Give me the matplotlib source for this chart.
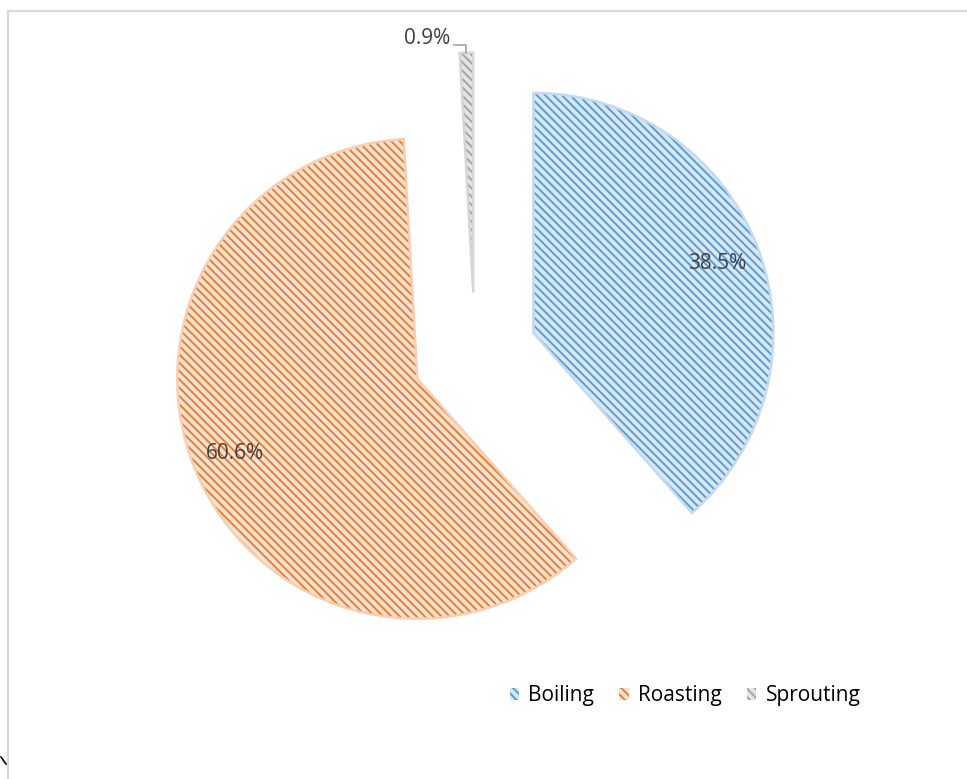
import matplotlib
matplotlib.use("Agg")
import matplotlib.pyplot as plt
from matplotlib.patches import Wedge, Rectangle
from matplotlib.lines import Line2D
import numpy as np

categories = ["Boiling", "Roasting", "Sprouting"]
shares = [38.5, 60.6, 0.9]
base_colors = ["#5b9bd5", "#ed7d31", "#a5a5a5"]
tint_colors = ["#d8e7f6", "#fce3d4", "#e4e4e4"]
glow_colors = ["#c3daf1", "#f9cfb3", "#d6d6d6"]

plt.rcParams["font.family"] = ["Open Sans", "DejaVu Sans"]
plt.rcParams["hatch.linewidth"] = 1.4

W, H = 967, 779
fig = plt.figure(figsize=(W / 100, H / 100), dpi=100)
ax = fig.add_axes([0, 0, 1, 1])

explode = [0.26] * len(shares)
wedges, texts, autotexts = ax.pie(
    shares,
    explode=explode,
    startangle=90,
    counterclock=False,
    radius=1.0,
    autopct=lambda p: f"{p:.1f}%",
    pctdistance=0.82,
    wedgeprops=dict(linewidth=0),
    textprops=dict(fontsize=15, color="#404040"),
)

# pie radius = 240 px, pie centre at (475, 355) px from the top-left corner
R = 240.0
cx, cy = 475.0, 355.0
ax.set_aspect("auto")
ax.set_xlim(-cx / R, (W - cx) / R)
ax.set_ylim(-(H - cy) / R, cy / R)
ax.set_axis_off()

for w, base, tint, glow in zip(wedges, base_colors, tint_colors, glow_colors):
    w.set_facecolor(tint)
    w.set_edgecolor(base)
    w.set_hatch("\\\\\\\\")
    w.set_linewidth(0)
    rim = Wedge(w.center, w.r, w.theta1, w.theta2, fill=False,
                edgecolor=glow, linewidth=1.8, zorder=w.get_zorder() + 0.1)
    ax.add_patch(rim)

# small slice: label placed above the slice with an elbow leader line
small = wedges[2]
mid = np.deg2rad((small.theta1 + small.theta2) / 2)
tip_x = small.center[0] + small.r * np.cos(mid)
tip_y = small.center[1] + small.r * np.sin(mid)
px = 1.0 / R
elbow_y = tip_y + 8 * px
line_end_x = tip_x - 12 * px
ax.add_line(Line2D([tip_x, tip_x, line_end_x], [tip_y, elbow_y, elbow_y],
                   color="#a6a6a6", linewidth=1.2))
t = autotexts[2]
t.set_position((line_end_x - 4 * px, elbow_y + 6 * px))
t.set_ha("right")
t.set_va("center")

leg = fig.legend(
    wedges, categories,
    loc="center", bbox_to_anchor=(685 / W, 1 - 696 / H),
    ncol=3, frameon=False, fontsize=15,
    handlelength=0.45, handleheight=0.45, handletextpad=0.45,
    columnspacing=1.2,
)
for txt in leg.get_texts():
    txt.set_color("#000000")

# chart area border
fig.add_artist(Rectangle((8 / W, -0.05), 1.2, (H - 11) / H + 0.05,
                         transform=fig.transFigure, fill=False,
                         edgecolor="#d9d9d9", linewidth=1.5))
fig.add_artist(Line2D([1 / W, 6 / W], [1 - 757 / H, 1 - 764 / H],
                      transform=fig.transFigure, color="black", linewidth=1.2))

fig.savefig("out.png", dpi=100, facecolor="white")
